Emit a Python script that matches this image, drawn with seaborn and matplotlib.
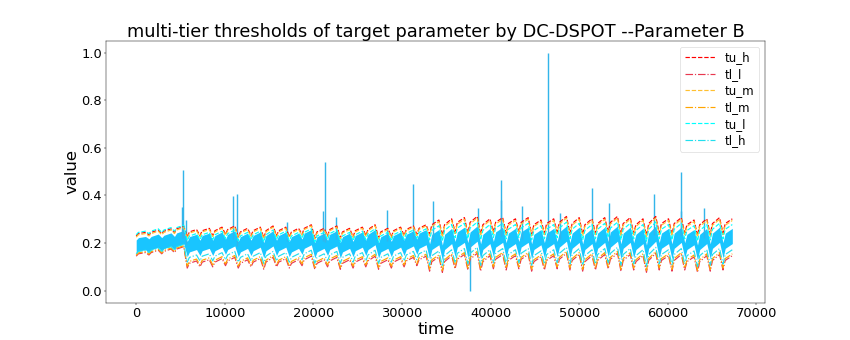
import numpy as np
import pandas as pd
import matplotlib
matplotlib.use("Agg")
import matplotlib.pyplot as plt
from matplotlib.lines import Line2D
import seaborn as sns

# ---------------- data ----------------
day_len = 1440          # one cycle of the daily pattern (time units)
t_end = 67600
# positions inside a cycle: trough, recovery, peak
cycle_pos = [0, 250, 1050]

# centre of the data band for each day at trough / recovery / peak
c_lo = [0.185, 0.19, 0.195, 0.20,
        0.175, 0.18, 0.18, 0.185, 0.175, 0.18, 0.17, 0.18, 0.175, 0.185, 0.17, 0.18,
        0.17, 0.175, 0.18, 0.17, 0.175, 0.18, 0.185,
        0.165, 0.16, 0.175, 0.17, 0.165, 0.175, 0.17, 0.175, 0.165, 0.17, 0.175, 0.17,
        0.165, 0.17, 0.175, 0.165, 0.17, 0.16, 0.17, 0.165, 0.17, 0.16, 0.165, 0.17]
c_mid = [0.195, 0.20, 0.205, 0.215,
         0.195, 0.20, 0.20, 0.205, 0.195, 0.20, 0.20, 0.20, 0.195, 0.21, 0.195, 0.205,
         0.195, 0.20, 0.205, 0.195, 0.20, 0.205, 0.21,
         0.205, 0.205, 0.215, 0.215, 0.205, 0.215, 0.21, 0.215, 0.205, 0.21, 0.215, 0.21,
         0.205, 0.21, 0.215, 0.21, 0.205, 0.21, 0.21, 0.21, 0.205, 0.205, 0.21, 0.21]
c_hi = [0.20, 0.21, 0.215, 0.225,
        0.205, 0.21, 0.215, 0.22, 0.21, 0.215, 0.22, 0.215, 0.21, 0.225, 0.21, 0.22,
        0.21, 0.215, 0.225, 0.21, 0.215, 0.22, 0.225,
        0.225, 0.23, 0.235, 0.24, 0.23, 0.235, 0.23, 0.235, 0.225, 0.23, 0.24, 0.235,
        0.23, 0.235, 0.24, 0.235, 0.23, 0.24, 0.23, 0.235, 0.225, 0.23, 0.235, 0.23]

# regime of each day (thresholds widen after day 4 and again after day 23)
regime_start_days = [0, 4, 23]
# offsets of each threshold from the data centre, one value per regime
band_half = [0.028, 0.032, 0.032]
off_tu_h = [0.045, 0.052, 0.072]
off_tu_m = [0.040, 0.047, 0.065]
off_tu_l = [0.050, 0.035, 0.048]
off_tl_h = [-0.030, -0.055, -0.058]
off_tl_m = [-0.036, -0.072, -0.075]
off_tl_l = [-0.040, -0.080, -0.083]

# isolated spikes of the data
spike_t = [5150, 5240, 5580, 10930, 11420, 16970, 21080, 21300, 22590, 28320,
           31220, 33520, 37670, 38570, 41150, 41210, 43590, 46490, 47810, 51400,
           53320, 58450, 61490, 61540, 64100]
spike_v = [0.35, 0.506, 0.295, 0.40, 0.405, 0.29, 0.335, 0.539, 0.31, 0.34,
           0.447, 0.375, 0.0, 0.347, 0.38, 0.467, 0.356, 1.0, 0.325, 0.432,
           0.367, 0.405, 0.335, 0.50, 0.347]

series_names = ["tu_h", "tl_l", "tu_m", "tl_m", "tu_l", "tl_h"]
series_colors = ["red", "#e8384f", "#ffc030", "orange", "cyan", "#22dfee"]
series_styles = ["--", "-.", "--", "-.", "--", "-."]

# ---------------- build table ----------------
n_days = len(c_lo)
t_list, c_list, r_list = [], [], []
for d in range(n_days):
    reg = max(i for i, s in enumerate(regime_start_days) if d >= s)
    for pos, cc in zip(cycle_pos, (c_lo[d], c_mid[d], c_hi[d])):
        tt = d * day_len + pos
        if tt <= t_end:
            t_list.append(tt)
            c_list.append(cc)
            r_list.append(reg)
t_arr = np.array(t_list, dtype=float)
c_arr = np.array(c_list)
r_arr = np.array(r_list)

offsets = {"tu_h": off_tu_h, "tl_l": off_tl_l, "tu_m": off_tu_m,
           "tl_m": off_tl_m, "tu_l": off_tu_l, "tl_h": off_tl_h}
df = pd.DataFrame({"time": t_arr, "centre": c_arr})
for name in series_names:
    df[name] = c_arr + np.array(offsets[name])[r_arr]
df["lo"] = c_arr - np.array(band_half)[r_arr]
df["hi"] = c_arr + np.array(band_half)[r_arr]

# ---------------- plot ----------------
fig, ax = plt.subplots(figsize=(20, 8), dpi=42.5)
data_col = "deepskyblue"
ax.fill_between(df["time"], df["lo"], df["hi"], color=data_col, alpha=0.9, lw=0)
base = np.interp(spike_t, df["time"], df["centre"])
ax.vlines(spike_t, base, spike_v, color="#33b5ea", lw=2.4)

handles = []
for name, col, ls in zip(series_names, series_colors, series_styles):
    sns.lineplot(data=df, x="time", y=name, ax=ax, color=col, linestyle=ls,
                 lw=2.0, legend=False)
    handles.append(Line2D([], [], color=col, linestyle=ls, lw=2.0, label=name))

ax.set_title("multi-tier thresholds of target parameter by DC-DSPOT --Parameter B",
             fontsize=30)
ax.set_xlabel("time", fontsize=28)
ax.set_ylabel("value", fontsize=28)
ax.tick_params(labelsize=22)
ax.set_xlim(-3380, 70980)
ax.set_ylim(-0.05, 1.05)
ax.legend(handles=handles, loc="upper right", fontsize=20, labelspacing=0.3,
          handlelength=2.6, handletextpad=0.8)
fig.subplots_adjust(left=0.125, right=0.9, top=0.88, bottom=0.11)
fig.savefig("out.png", dpi=42.5)
